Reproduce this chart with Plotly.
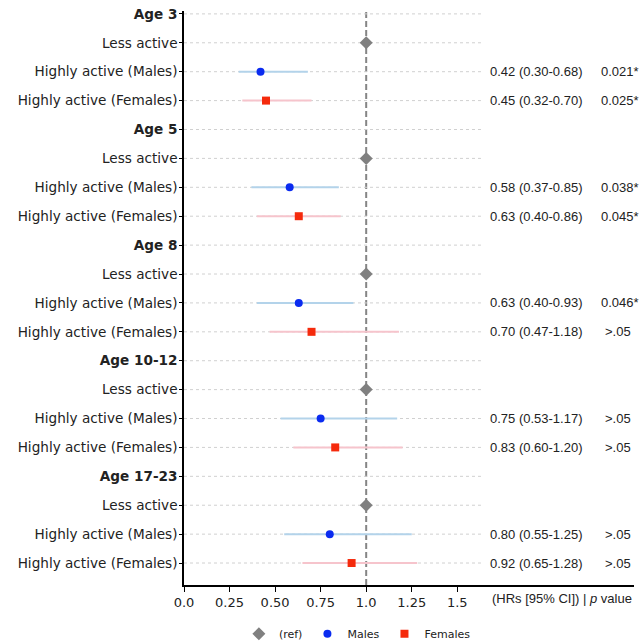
import plotly.graph_objects as go

row_labels = ["Age 3", "Less active", "Highly active (Males)", "Highly active (Females)",
              "Age 5", "Less active", "Highly active (Males)", "Highly active (Females)",
              "Age 8", "Less active", "Highly active (Males)", "Highly active (Females)",
              "Age 10-12", "Less active", "Highly active (Males)", "Highly active (Females)",
              "Age 17-23", "Less active", "Highly active (Males)", "Highly active (Females)"]
header_rows = [0, 4, 8, 12, 16]
ref_rows = [1, 5, 9, 13, 17]
male_rows = [2, 6, 10, 14, 18]
female_rows = [3, 7, 11, 15, 19]

male_hr = [0.42, 0.58, 0.63, 0.75, 0.80]
male_lo = [0.30, 0.37, 0.40, 0.53, 0.55]
male_hi = [0.68, 0.85, 0.93, 1.17, 1.25]
male_p = ["0.021*", "0.038*", "0.046*", ">.05", ">.05"]

female_hr = [0.45, 0.63, 0.70, 0.83, 0.92]
female_lo = [0.32, 0.40, 0.47, 0.60, 0.65]
female_hi = [0.70, 0.86, 1.18, 1.20, 1.28]
female_p = ["0.025*", "0.045*", ">.05", ">.05", ">.05"]

ref_hr = [1.0, 1.0, 1.0, 1.0, 1.0]

x_ticks = [0.0, 0.25, 0.5, 0.75, 1.0, 1.25, 1.5]
x_ticktext = ["0.0", "0.25", "0.50", "0.75", "1.0", "1.25", "1.5"]

fig = go.Figure()

fig.add_trace(go.Scatter(
    x=ref_hr, y=ref_rows, mode="markers", name="(ref)",
    marker=dict(symbol="diamond", color="#808080", size=10)))
fig.add_trace(go.Scatter(
    x=male_hr, y=male_rows, mode="markers", name="Males",
    marker=dict(symbol="circle", color="#0a2bf0", size=8),
    error_x=dict(type="data", symmetric=False,
                 array=[h - m for h, m in zip(male_hi, male_hr)],
                 arrayminus=[m - l for m, l in zip(male_hr, male_lo)],
                 color="#b3d3ea", thickness=2, width=0)))
fig.add_trace(go.Scatter(
    x=female_hr, y=female_rows, mode="markers", name="Females",
    marker=dict(symbol="square", color="#f52a0c", size=8),
    error_x=dict(type="data", symmetric=False,
                 array=[h - m for h, m in zip(female_hi, female_hr)],
                 arrayminus=[m - l for m, l in zip(female_hr, female_lo)],
                 color="#f6c4cc", thickness=2, width=0)))

shapes = []
for r in range(len(row_labels)):
    shapes.append(dict(type="line", xref="x", yref="y", x0=0, x1=1.63, y0=r, y1=r,
                       line=dict(color="#d0d0d0", width=1, dash="dot"), layer="below"))
shapes.append(dict(type="line", xref="x", yref="paper", x0=1, x1=1, y0=0, y1=1,
                   line=dict(color="#858585", width=2, dash="6px,3px"), layer="below"))

annotations = []
txt_font = dict(family="Liberation Sans, Arial", size=13, color="#222")
for rows, hr, lo, hi, p in [(male_rows, male_hr, male_lo, male_hi, male_p),
                            (female_rows, female_hr, female_lo, female_hi, female_p)]:
    for r, h, l, u, pv in zip(rows, hr, lo, hi, p):
        annotations.append(dict(x=1.67, y=r, xref="x", yref="y", xanchor="left",
                                text=f"{h:.2f} ({l:.2f}-{u:.2f})", showarrow=False, font=txt_font))
        px = 2.30 if pv.startswith(">") else 2.28
        annotations.append(dict(x=px, y=r, xref="x", yref="y", xanchor="left",
                                text=pv, showarrow=False, font=txt_font))
annotations.append(dict(x=2.47, y=0, xref="x", yref="paper", xanchor="right", yanchor="middle",
                        yshift=-13, text="(HRs [95% CI]) | <i>p</i> value", showarrow=False,
                        font=dict(family="Liberation Sans, Arial", size=13, color="#222")))

ticktext = [f"<b>{t}</b>" if i in header_rows else t for i, t in enumerate(row_labels)]

fig.update_layout(
    width=642, height=642,
    margin=dict(l=184, r=8, t=11, b=57, autoexpand=False),
    plot_bgcolor="white", paper_bgcolor="white",
    font=dict(family="DejaVu Sans", size=13, color="#222"),
    shapes=shapes, annotations=annotations,
    showlegend=True,
    legend=dict(orientation="h", x=0.122, y=-0.085, xanchor="left", yanchor="middle",
                font=dict(size=11), itemwidth=30),
    xaxis=dict(range=[0, 2.47], tickvals=x_ticks, ticktext=x_ticktext, showgrid=False,
               zeroline=False, showline=True, linecolor="black", linewidth=1.5,
               ticks="outside", ticklen=5, tickcolor="black", tickfont=dict(size=13)),
    yaxis=dict(range=[19.76, -0.1], tickvals=list(range(len(row_labels))), ticktext=ticktext,
               showgrid=False, zeroline=False, showline=True, linecolor="black", linewidth=1.5,
               ticks="outside", ticklen=3, tickcolor="black", tickfont=dict(size=13.6),
               ticklabelstandoff=-1),
)

fig.write_html("out.html")
